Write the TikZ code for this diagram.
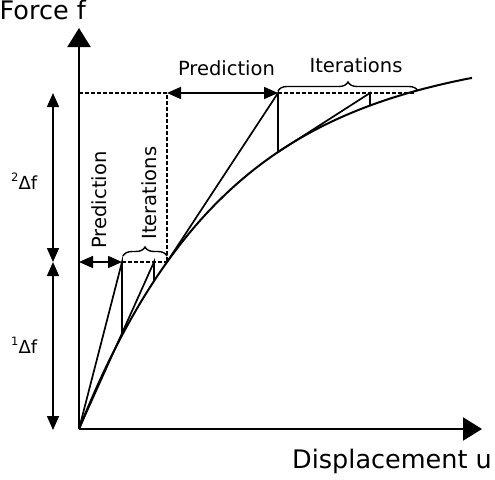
\documentclass[tikz,border=0pt]{standalone}
\usepackage{fontspec}
\setmainfont{DejaVu Sans}
\usetikzlibrary{arrows.meta,decorations.pathreplacing}
\tikzset{
  axis/.style={line width=2.2pt,-{Triangle[length=19pt,width=23pt]}},
  thin line/.style={line width=1.7pt},
  dotline/.style={line width=1.5pt,dash pattern=on 3.5pt off 2.5pt},
  dimarrow/.style={line width=1.6pt,{Triangle[length=14pt,width=12pt]}-{Triangle[length=14pt,width=12pt]}},
  lbl/.style={inner sep=0pt,font=\fontsize{19.5}{22}\selectfont},
  dlbl/.style={inner sep=0pt,font=\fontsize{18}{20}\selectfont},
  biglbl/.style={inner sep=0pt,font=\fontsize{25.5}{28}\selectfont},
  bracestyle/.style={line width=1.4pt,decorate,decoration={brace,amplitude=9pt,aspect=0.5}}
}
\newcommand{\supnum}[1]{\raisebox{7.5pt}{\fontsize{11.5}{12}\selectfont #1}}
\begin{document}
\begin{tikzpicture}[x=1pt,y=-1pt,
  declare function={ff(\u)=374*(1-exp(-\u/150))+0.011*\u;}]
\useasboundingbox (0,0) rectangle (495,479);
% key coordinates
\coordinate (O) at (79,429);
\coordinate (Ytop) at (79,28);
\coordinate (Xend) at (482,429);
\coordinate (P1) at (122,262);
\coordinate (C1) at (122,{429-ff(43)});
\coordinate (I1) at (154,262);
\coordinate (C1b) at (154,{429-ff(75)});
\coordinate (S1) at (167,262);
\coordinate (Y1) at (79,262);
\coordinate (T2) at (167,93);
\coordinate (Y2) at (79,93);
\coordinate (P2) at (278,93);
\coordinate (C2) at (278,{429-ff(199)});
\coordinate (I2) at (370,93);
\coordinate (C2b) at (370,{429-ff(291)});
\coordinate (S2) at (414,93);
\coordinate (Dtop) at (53,93);
\coordinate (Dmid) at (53,262);
\coordinate (Dbot) at (53,430);
% axes
\draw[axis] (O) -- (Ytop);
\draw[axis] (O) -- (Xend);
% curve
\draw[line width=2pt] plot[domain=0:393,samples=120] ({79+\x},{429-ff(\x)});
% dotted guides
\draw[dotline] (Y2) -- (T2) -- (S1);
\draw[dotline] (P1) -- (S1);
\draw[dotline] (P2) -- (S2);
% first step
\draw[thin line] (O) -- (P1) -- (C1);
\draw[thin line] (O) -- (I1) -- (C1b);
% second step
\draw[thin line] (S1) -- (P2) -- (C2);
\draw[thin line] (C2) -- (I2) -- (C2b);
% prediction arrows
\draw[dimarrow] (Y1) -- (P1);
\draw[dimarrow] (T2) -- (P2);
% left dimension arrows
\draw[dimarrow] (Dmid) -- (Dtop);
\draw[dimarrow] (Dmid) -- (Dbot);
% braces
\draw[bracestyle] (278,91) -- (418,91);
\draw[bracestyle] (123,256) -- (167,256);
% labels
\node[biglbl,anchor=base east] (force) at (86,19) {Force f};
\node[biglbl,anchor=base east] (disp) at (492,468) {Displacement u};
\node[lbl,anchor=base] (pred2) at (226.5,75) {Prediction};
\node[lbl,anchor=base] (iter2) at (356,72) {Iterations};
\node[lbl,rotate=90,anchor=base] (pred1) at (106,200) {Prediction};
\node[lbl,rotate=90,anchor=base] (iter1) at (156,193) {Iterations};
\node[dlbl,anchor=base west] (df2) at (11,189) {\supnum{2}Δf};
\node[dlbl,anchor=base west] (df1) at (11,353) {\supnum{1}Δf};
\end{tikzpicture}
\end{document}
